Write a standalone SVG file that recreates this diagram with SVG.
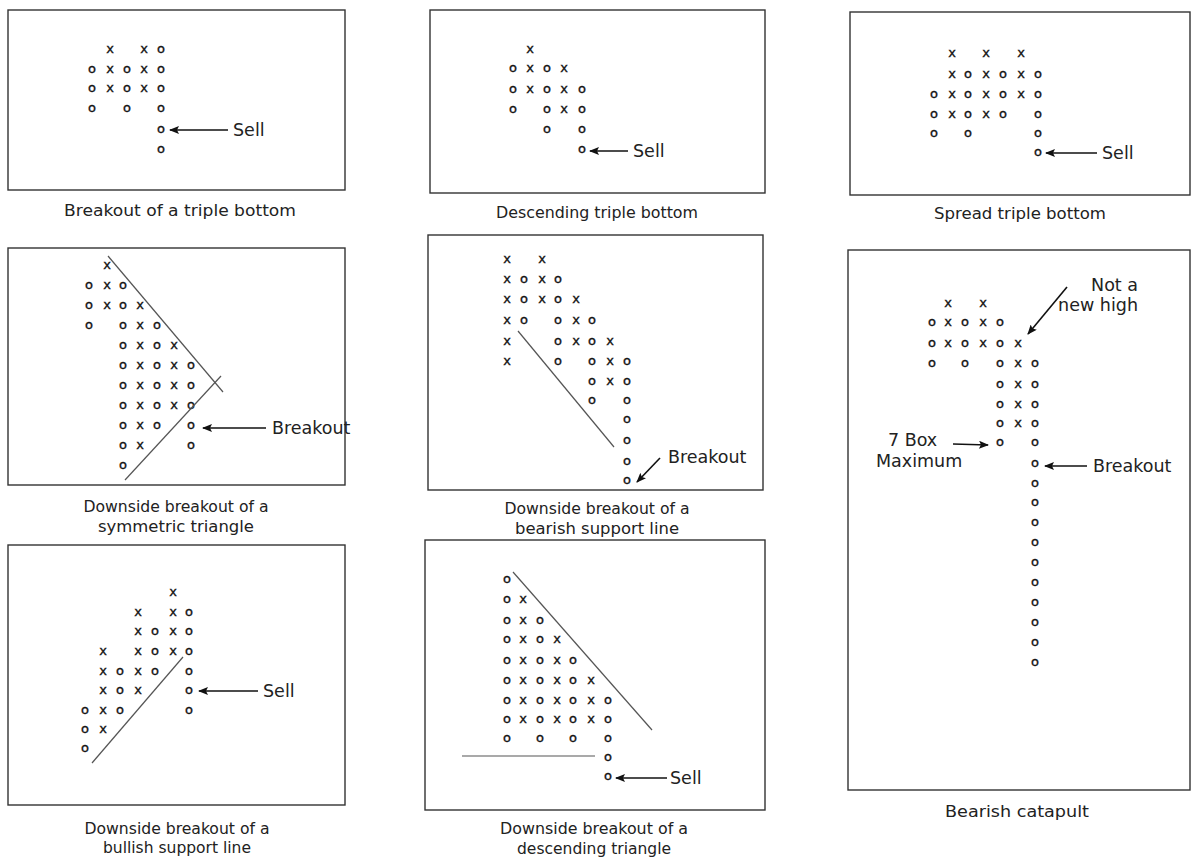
<svg xmlns="http://www.w3.org/2000/svg" width="1199" height="857" viewBox="0 0 1199 857">
<defs>
<marker id="ah" viewBox="0 0 10 8" refX="9" refY="4" markerWidth="11" markerHeight="8" markerUnits="userSpaceOnUse" orient="auto"><path d="M0,0 L10,4 L0,8 L2,4 Z" fill="#111"/></marker>
<style>
.box{fill:#fff;stroke:#333;stroke-width:1.4}
.pf{font-family:"DejaVu Sans",sans-serif;font-size:13px;fill:#111;stroke:#111;stroke-width:0.35;text-anchor:middle}
.cap{font-family:"DejaVu Sans",sans-serif;font-size:15.5px;fill:#222;text-anchor:middle}
.lbl{font-family:"DejaVu Sans",sans-serif;font-size:17.5px;fill:#222}
.tl{stroke:#555;stroke-width:1.2;fill:none}
.arr{stroke:#111;stroke-width:1.6;fill:none;marker-end:url(#ah)}
</style>
</defs>
<rect x="0" y="0" width="1199" height="857" fill="#fff"/>

<g id="panel1">
<rect class="box" x="8" y="10" width="337" height="180"/>
<text class="pf" x="110 144 161" y="53">xxo</text>
<text class="pf" x="92 110 127 144 161" y="73">oxoxo</text>
<text class="pf" x="92 110 127 144 161" y="92">oxoxo</text>
<text class="pf" x="92 127 161" y="112">ooo</text>
<text class="pf" x="161" y="133">o</text>
<text class="pf" x="161" y="153">o</text>
<text class="lbl" x="233" y="136">Sell</text>
<text class="cap" x="180" y="216" textLength="232" lengthAdjust="spacingAndGlyphs">Breakout of a triple bottom</text>
</g>

<g id="panel2">
<rect class="box" x="430" y="10" width="335" height="183"/>
<text class="pf" x="530" y="53">x</text>
<text class="pf" x="513 530 547 564" y="72">oxox</text>
<text class="pf" x="513 530 547 564 582" y="93">oxoxo</text>
<text class="pf" x="513 547 564 582" y="113">ooxo</text>
<text class="pf" x="547 582" y="133">oo</text>
<text class="pf" x="582" y="153">o</text>
<text class="lbl" x="633" y="157">Sell</text>
<text class="cap" x="597" y="218" textLength="202" lengthAdjust="spacingAndGlyphs">Descending triple bottom</text>
</g>

<g id="panel3">
<rect class="box" x="850" y="12" width="340" height="183"/>
<text class="pf" x="952 986 1021" y="57">xxx</text>
<text class="pf" x="952 968 986 1003 1021 1038" y="78">xoxoxo</text>
<text class="pf" x="934 952 968 986 1003 1021 1038" y="98">oxoxoxo</text>
<text class="pf" x="934 952 968 986 1003 1038" y="118">oxoxoo</text>
<text class="pf" x="934 968 1038" y="137">ooo</text>
<text class="pf" x="1038" y="156">o</text>
<text class="lbl" x="1102" y="159">Sell</text>
<text class="cap" x="1020" y="219" textLength="172" lengthAdjust="spacingAndGlyphs">Spread triple bottom</text>
</g>

<g id="panel4">
<rect class="box" x="8" y="248" width="337" height="237"/>
<text class="pf" x="107" y="269">x</text>
<text class="pf" x="89 107 123" y="289">oxo</text>
<text class="pf" x="89 107 123 140" y="309">oxox</text>
<text class="pf" x="89 123 140 157" y="329">ooxo</text>
<text class="pf" x="123 140 157 174" y="349">oxox</text>
<text class="pf" x="123 140 157 174 191" y="369">oxoxo</text>
<text class="pf" x="123 140 157 174 191" y="389">oxoxo</text>
<text class="pf" x="123 140 157 174 191" y="409">oxoxo</text>
<text class="pf" x="123 140 157 191" y="429">oxoo</text>
<text class="pf" x="123 140 191" y="449">oxo</text>
<text class="pf" x="123" y="469">o</text>
<line class="tl" x1="108" y1="256" x2="223" y2="392"/>
<line class="tl" x1="221" y1="376" x2="125" y2="480"/>
<text class="lbl" x="272" y="434">Breakout</text>
<text class="cap" x="176" y="512" textLength="185" lengthAdjust="spacingAndGlyphs">Downside breakout of a</text>
<text class="cap" x="176" y="532" textLength="156" lengthAdjust="spacingAndGlyphs">symmetric triangle</text>
</g>

<g id="panel5">
<rect class="box" x="428" y="235" width="335" height="255"/>
<text class="pf" x="507 542" y="263">xx</text>
<text class="pf" x="507 524 542 558" y="283">xoxo</text>
<text class="pf" x="507 524 542 558 576" y="303">xoxox</text>
<text class="pf" x="507 524 558 576 592" y="324">xooxo</text>
<text class="pf" x="507 558 576 592 610" y="345">xoxox</text>
<text class="pf" x="507 558 592 610 627" y="365">xooxo</text>
<text class="pf" x="592 610 627" y="385">oxo</text>
<text class="pf" x="592 627" y="404">oo</text>
<text class="pf" x="627" y="423">o</text>
<text class="pf" x="627" y="444">o</text>
<text class="pf" x="627" y="465">o</text>
<text class="pf" x="627" y="484">o</text>
<line class="tl" x1="518" y1="331" x2="614" y2="447"/>
<text class="lbl" x="668" y="463">Breakout</text>
<text class="cap" x="597" y="514" textLength="185" lengthAdjust="spacingAndGlyphs">Downside breakout of a</text>
<text class="cap" x="597" y="534" textLength="164" lengthAdjust="spacingAndGlyphs">bearish support line</text>
</g>

<g id="panel6">
<rect class="box" x="848" y="250" width="342" height="540"/>
<text class="pf" x="948 983" y="307">xx</text>
<text class="pf" x="932 948 965 983 1000" y="326">oxoxo</text>
<text class="pf" x="932 948 965 983 1000 1018" y="347">oxoxox</text>
<text class="pf" x="932 965 1000 1018 1035" y="367">oooxo</text>
<text class="pf" x="1000 1018 1035" y="388">oxo</text>
<text class="pf" x="1000 1018 1035" y="408">oxo</text>
<text class="pf" x="1000 1018 1035" y="427">oxo</text>
<text class="pf" x="1000 1035" y="446">oo</text>
<text class="pf" x="1035" y="467">o</text>
<text class="pf" x="1035" y="487">o</text>
<text class="pf" x="1035" y="506">o</text>
<text class="pf" x="1035" y="526">o</text>
<text class="pf" x="1035" y="546">o</text>
<text class="pf" x="1035" y="566">o</text>
<text class="pf" x="1035" y="586">o</text>
<text class="pf" x="1035" y="606">o</text>
<text class="pf" x="1035" y="626">o</text>
<text class="pf" x="1035" y="646">o</text>
<text class="pf" x="1035" y="666">o</text>
<text class="lbl" x="1138" y="291" text-anchor="end">Not a</text>
<text class="lbl" x="1138" y="311" text-anchor="end">new high</text>
<text class="lbl" x="888" y="446">7 Box</text>
<text class="lbl" x="876" y="467">Maximum</text>
<text class="lbl" x="1093" y="472">Breakout</text>
<text class="cap" x="1017" y="817" textLength="144" lengthAdjust="spacingAndGlyphs">Bearish catapult</text>
</g>

<g id="panel7">
<rect class="box" x="8" y="545" width="337" height="260"/>
<text class="pf" x="173" y="596">x</text>
<text class="pf" x="138 173 189" y="616">xxo</text>
<text class="pf" x="138 155 173 189" y="635">xoxo</text>
<text class="pf" x="103 138 155 173 189" y="655">xxoxo</text>
<text class="pf" x="103 120 138 155 189" y="675">xoxoo</text>
<text class="pf" x="103 120 138 189" y="694">xoxo</text>
<text class="pf" x="85 103 120 189" y="714">oxoo</text>
<text class="pf" x="85 103" y="733">ox</text>
<text class="pf" x="85" y="752">o</text>
<line class="tl" x1="92" y1="763" x2="183" y2="657"/>
<text class="lbl" x="263" y="697">Sell</text>
<text class="cap" x="177" y="834" textLength="185" lengthAdjust="spacingAndGlyphs">Downside breakout of a</text>
<text class="cap" x="177" y="853" textLength="148" lengthAdjust="spacingAndGlyphs">bullish support line</text>
</g>

<g id="panel8">
<rect class="box" x="425" y="540" width="340" height="270"/>
<text class="pf" x="507" y="583">o</text>
<text class="pf" x="507 523" y="603">ox</text>
<text class="pf" x="507 523 540" y="624">oxo</text>
<text class="pf" x="507 523 540 557" y="643">oxox</text>
<text class="pf" x="507 523 540 557 573" y="664">oxoxo</text>
<text class="pf" x="507 523 540 557 573 591" y="684">oxoxox</text>
<text class="pf" x="507 523 540 557 573 591 608" y="704">oxoxoxo</text>
<text class="pf" x="507 523 540 557 573 591 608" y="723">oxoxoxo</text>
<text class="pf" x="507 540 573 608" y="742">oooo</text>
<text class="pf" x="608" y="761">o</text>
<text class="pf" x="608" y="780">o</text>
<line class="tl" x1="513" y1="572" x2="652" y2="730"/>
<line class="tl" x1="462" y1="756" x2="595" y2="756"/>
<text class="lbl" x="670" y="784">Sell</text>
<text class="cap" x="594" y="834" textLength="188" lengthAdjust="spacingAndGlyphs">Downside breakout of a</text>
<text class="cap" x="594" y="854" textLength="154" lengthAdjust="spacingAndGlyphs">descending triangle</text>
</g>

<g id="connectors">
<line class="arr" x1="228" y1="130" x2="170" y2="130"/>
<line class="arr" x1="628" y1="151" x2="590" y2="151"/>
<line class="arr" x1="1097" y1="153" x2="1046" y2="153"/>
<line class="arr" x1="266" y1="428" x2="203" y2="428"/>
<line class="arr" x1="660" y1="458" x2="637" y2="482"/>
<line class="arr" x1="1067" y1="287" x2="1028" y2="334"/>
<line class="arr" x1="953" y1="444" x2="988" y2="445"/>
<line class="arr" x1="1087" y1="466" x2="1045" y2="466"/>
<line class="arr" x1="258" y1="691" x2="199" y2="691"/>
<line class="arr" x1="667" y1="778" x2="616" y2="778"/>
</g>
</svg>
